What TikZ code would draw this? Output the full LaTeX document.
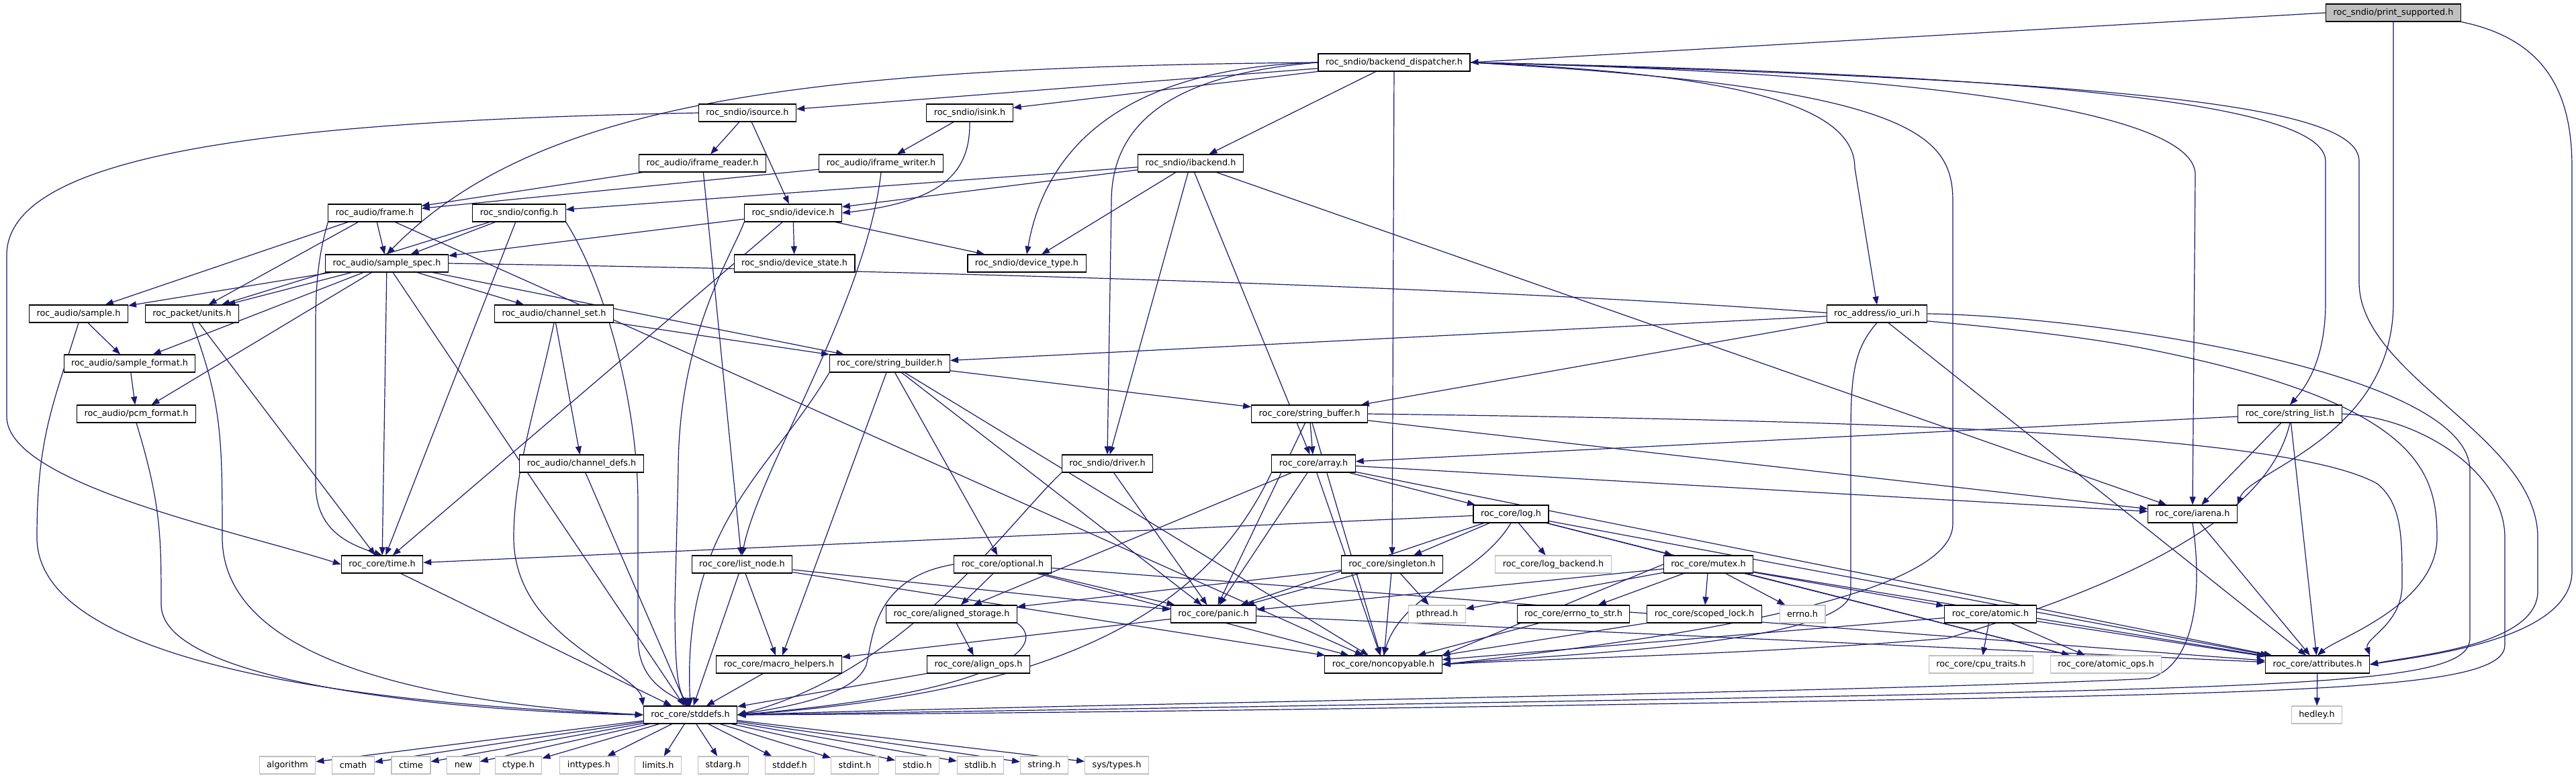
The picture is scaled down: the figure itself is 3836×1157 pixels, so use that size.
\documentclass[tikz,border=0pt]{standalone}
\usepackage{fontspec}
\setmainfont{DejaVu Sans}
\usetikzlibrary{arrows.meta,backgrounds}
\definecolor{edgeblue}{HTML}{191970}
\definecolor{extgray}{HTML}{BFBFBF}
\newcommand{\hdrsize}{\fontsize{6.4}{7.6}\selectfont}
\tikzset{
    hdr/.style={
        draw=black,line width=0.55pt,fill=white,
        inner xsep=5.5pt,inner ysep=0pt,minimum height=13pt,
        font=\hdrsize
    },
    ext hdr/.style={hdr,draw=extgray},
    root hdr/.style={hdr,fill=extgray},
    incl/.style={draw=edgeblue,line width=0.6pt,-{Triangle[length=6pt,width=4.5pt]}}
}

\begin{document}
\begin{tikzpicture}[x=0.5pt,y=-0.5pt]
\useasboundingbox (0,0) rectangle (3836,1157);
% headers, one rank per row
\node[root hdr] (ps) at (3564,19) {roc\_sndio/print\_supported.h};
\node[hdr] (bd) at (2076,93) {roc\_sndio/backend\_dispatcher.h};
\node[hdr] (isrc) at (1113,168) {roc\_sndio/isource.h};
\node[hdr] (isnk) at (1444,168) {roc\_sndio/isink.h};
\node[hdr] (ifr) at (1046,243) {roc\_audio/iframe\_reader.h};
\node[hdr] (ifw) at (1312,243) {roc\_audio/iframe\_writer.h};
\node[hdr] (ibk) at (1773,243) {roc\_sndio/ibackend.h};
\node[hdr] (frm) at (558,317) {roc\_audio/frame.h};
\node[hdr] (cfg) at (773,317) {roc\_sndio/config.h};
\node[hdr] (idev) at (1181,317) {roc\_sndio/idevice.h};
\node[hdr] (spec) at (576,392) {roc\_audio/sample\_spec.h};
\node[hdr] (dstate) at (1183,392) {roc\_sndio/device\_state.h};
\node[hdr] (dtype) at (1529,392) {roc\_sndio/device\_type.h};
\node[hdr] (smp) at (117,467) {roc\_audio/sample.h};
\node[hdr] (units) at (286,467) {roc\_packet/units.h};
\node[hdr] (chset) at (825,467) {roc\_audio/channel\_set.h};
\node[hdr] (iouri) at (2795,467) {roc\_address/io\_uri.h};
\node[hdr] (sfmt) at (193,541) {roc\_audio/sample\_format.h};
\node[hdr] (sbld) at (1325,541) {roc\_core/string\_builder.h};
\node[hdr] (pcm) at (203,616) {roc\_audio/pcm\_format.h};
\node[hdr] (sbuf) at (1950,616) {roc\_core/string\_buffer.h};
\node[hdr] (slist) at (3410,616) {roc\_core/string\_list.h};
\node[hdr] (chdefs) at (866,690) {roc\_audio/channel\_defs.h};
\node[hdr] (drv) at (1649,690) {roc\_sndio/driver.h};
\node[hdr] (arr) at (1956,690) {roc\_core/array.h};
\node[hdr] (log) at (2250,765) {roc\_core/log.h};
\node[hdr] (iarena) at (3265,765) {roc\_core/iarena.h};
\node[hdr] (time) at (569,840) {roc\_core/time.h};
\node[hdr] (lnode) at (1105,840) {roc\_core/list\_node.h};
\node[hdr] (opt) at (1493,840) {roc\_core/optional.h};
\node[hdr] (sing) at (2073,840) {roc\_core/singleton.h};
\node[ext hdr] (logb) at (2313,840) {roc\_core/log\_backend.h};
\node[hdr] (mutex) at (2544,840) {roc\_core/mutex.h};
\node[hdr] (astor) at (1417,914) {roc\_core/aligned\_storage.h};
\node[hdr] (panic) at (1807,914) {roc\_core/panic.h};
\node[ext hdr] (pthr) at (2140,914) {pthread.h};
\node[hdr] (e2s) at (2343,914) {roc\_core/errno\_to\_str.h};
\node[hdr] (slock) at (2538,914) {roc\_core/scoped\_lock.h};
\node[ext hdr] (errno) at (2684,914) {errno.h};
\node[hdr] (atomic) at (2964,914) {roc\_core/atomic.h};
\node[hdr] (mhelp) at (1160,989) {roc\_core/macro\_helpers.h};
\node[hdr] (aops) at (1457,989) {roc\_core/align\_ops.h};
\node[hdr] (nocopy) at (2060,989) {roc\_core/noncopyable.h};
\node[ext hdr] (cput) at (2950,989) {roc\_core/cpu\_traits.h};
\node[ext hdr] (atops) at (3136,989) {roc\_core/atomic\_ops.h};
\node[hdr] (attr) at (3451,989) {roc\_core/attributes.h};
\node[hdr] (stddefs) at (1028,1064) {roc\_core/stddefs.h};
\node[ext hdr] (hedley) at (3450,1064) {hedley.h};
% system headers
\foreach \n/\x/\t in {algorithm/428/algorithm,cmath/526/cmath,ctime/612/ctime,new/690/new,
    ctype/772/ctype.h,inttypes/877/inttypes.h,limits/980/limits.h,stdarg/1077/stdarg.h,
    stddef/1176/stddef.h,stdint/1273/stdint.h,stdio/1366/stdio.h,stdlib/1460/stdlib.h,string/1555/string.h}
    \node[ext hdr] (\n) at (\x,1139) {\t};
\node[ext hdr] (systypes) at (1663,1139) {sys/types.h};

\begin{pgfonlayer}{background}
\foreach \a/\b in {isrc/ifr,isrc/idev,isnk/ifw,ifr/frm,ifr/lnode,ifw/frm,
    ibk/cfg,ibk/idev,ibk/dtype,ibk/drv,ibk/arr,ibk/iarena,bd/isrc,bd/isnk,bd/ibk,bd/sing,
    frm/smp,frm/units,frm/spec,frm/nocopy,
    cfg/spec,cfg/units,cfg/time,
    idev/spec,idev/dstate,idev/dtype,idev/time,
    spec/smp,spec/units,spec/sfmt,spec/pcm,spec/chset,spec/sbld,spec/time,spec/stddefs,
    smp/sfmt,units/time,chset/sbld,chset/chdefs,
    sfmt/pcm,chdefs/stddefs,
    iouri/sbld,iouri/sbuf,iouri/attr,
    sbld/sbuf,sbld/opt,sbld/mhelp,sbld/nocopy,sbld/panic,
    sbuf/arr,sbuf/panic,sbuf/nocopy,sbuf/iarena,
    slist/arr,slist/iarena,slist/attr,drv/panic,
    arr/log,arr/iarena,arr/panic,arr/astor,arr/nocopy,arr/attr,
    log/time,log/sing,log/logb,log/mutex,log/panic,log/atops,log/attr,
    iarena/attr,lnode/panic,lnode/mhelp,lnode/nocopy,lnode/stddefs,
    opt/astor,opt/panic,opt/nocopy,opt/attr,
    sing/astor,sing/panic,sing/pthr,sing/nocopy,
    mutex/pthr,mutex/e2s,mutex/slock,mutex/errno,mutex/atomic,mutex/panic,mutex/atops,mutex/attr,
    astor/aops,panic/mhelp,panic/attr,e2s/nocopy,slock/nocopy,
    atomic/cput,atomic/atops,atomic/nocopy,atomic/attr,
    mhelp/stddefs,aops/stddefs,time/stddefs,attr/hedley}
    \draw[incl] (\a) -- (\b);
\foreach \n in {algorithm,cmath,ctime,new,ctype,inttypes,limits,stdarg,
    stddef,stdint,stdio,stdlib,string,systypes}
    \draw[incl] (stddefs) -- (\n);
% routed edges
\draw[incl] (ps.west) -- (bd.east);
\draw[incl] (ps.south) -- (3564,450) .. controls (3564,650) and (3350,700) .. (iarena.north east);
\draw[incl] (ps.south east) .. controls (3800,60) and (3830,150) .. (3830,250) -- (3830,850)
    .. controls (3830,950) and (3620,975) .. (attr.east);
\draw[incl] (isrc.west) .. controls (400,180) and (10,230) .. (10,380) -- (10,620)
    .. controls (10,720) and (350,790) .. (time.west);
\draw[incl] (isnk.south) .. controls (1445,260) and (1400,300) .. (idev.east);
\draw[incl] (ifw.south) .. controls (1290,450) and (1130,700) .. (lnode.north);
\draw[incl] (frm.south west) .. controls (480,360) and (470,400) .. (470,480) -- (470,720)
    .. controls (470,790) and (520,810) .. (time.north);
\draw[incl] (bd.west) .. controls (1200,100) and (800,150) .. (spec.north);
\draw[incl] (bd.west) .. controls (1700,100) and (1560,200) .. (dtype.north);
\draw[incl] (bd.west) .. controls (1750,110) and (1655,180) .. (1655,300) -- (drv.north);
\draw[incl] (bd.east) .. controls (2600,110) and (2762,160) .. (2762,250) -- (iouri.north);
\draw[incl] (bd.east) .. controls (2900,110) and (3269,170) .. (3269,260) -- (iarena.north);
\draw[incl] (bd.east) .. controls (3000,110) and (3463,150) .. (3463,240) -- (3463,450)
    .. controls (3463,540) and (3430,580) .. (slist.north);
\draw[incl] (bd.east) .. controls (3200,120) and (3513,160) .. (3513,240) -- (3513,420)
    .. controls (3513,560) and (3779,650) .. (3779,800) -- (3779,880)
    .. controls (3779,960) and (3600,975) .. (attr.east);
\draw[incl] (bd.east) .. controls (2850,130) and (2908,200) .. (2908,300) -- (2908,780)
    .. controls (2908,900) and (2400,960) .. (nocopy.east);
% to roc_core/stddefs.h
\draw[incl] (cfg.south east) .. controls (900,420) and (950,600) .. (950,750) -- (950,950)
    .. controls (950,1010) and (990,1030) .. (stddefs.north);
\draw[incl] (idev.south west) .. controls (1090,380) and (1010,500) .. (1010,700) -- (1005,900)
    .. controls (1005,1000) and (1010,1030) .. (stddefs.north);
\draw[incl] (smp.south) .. controls (80,600) and (55,650) .. (55,800)
    .. controls (55,1000) and (600,1050) .. (stddefs.west);
\draw[incl] (units.south) .. controls (330,600) and (331,650) .. (331,800)
    .. controls (331,1000) and (700,1050) .. (stddefs.west);
\draw[incl] (pcm.south) .. controls (240,750) and (240,800) .. (240,900)
    .. controls (240,1020) and (700,1060) .. (stddefs.west);
\draw[incl] (chset.south) .. controls (800,600) and (765,700) .. (765,800)
    .. controls (765,950) and (950,1000) .. (stddefs.north west);
\draw[incl] (sbld.south west) .. controls (1150,700) and (1015,780) .. (stddefs.north);
\draw[incl] (arr.south west) .. controls (1800,900) and (1600,1030) .. (stddefs.east);
\draw[incl] (drv.south west) .. controls (1500,780) and (1350,1000) .. (stddefs.east);
\draw[incl] (opt.west) .. controls (1300,860) and (1300,950) .. (1290,990)
    .. controls (1270,1040) and (1150,1055) .. (stddefs.east);
\draw[incl] (astor.south east) .. controls (1560,960) and (1500,1030) .. (stddefs.east);
\draw[incl] (iouri.east) .. controls (3100,470) and (3678,550) .. (3678,700) -- (3678,950)
    .. controls (3678,1010) and (3500,1020) .. (2800,1035) .. controls (2000,1050) and (1500,1058) .. (stddefs.east);
\draw[incl] (slist.east) .. controls (3600,620) and (3730,700) .. (3730,800) -- (3730,960)
    .. controls (3730,1020) and (3500,1030) .. (2800,1042) .. controls (2000,1056) and (1500,1062) .. (stddefs.east);
\draw[incl] (iarena.south) .. controls (3280,880) and (3270,990) .. (3200,1010)
    .. controls (2800,1030) and (1500,1050) .. (stddefs.east);
% to roc_core/noncopyable.h
\draw[incl] (iouri.south) .. controls (2760,520) and (2756,560) .. (2756,650) -- (2756,880)
    .. controls (2756,960) and (2300,975) .. (nocopy.east);
\draw[incl] (slist.south) .. controls (3380,760) and (3200,860) .. (2900,950)
    .. controls (2600,975) and (2300,980) .. (nocopy.east);
\draw[incl] (log.south) .. controls (2200,860) and (2090,880) .. (nocopy.north);
\draw[incl] (mutex.west) -- (nocopy.north east);
% to roc_core/attributes.h
\draw[incl] (spec.east) .. controls (1500,405) and (2800,440) .. (3200,520)
    .. controls (3600,600) and (3629,700) .. (3629,800) .. controls (3629,900) and (3480,950) .. (attr.north);
\draw[incl] (sbuf.east) .. controls (2700,625) and (3400,640) .. (3540,720)
    .. controls (3577,750) and (3577,800) .. (3577,870) .. controls (3577,930) and (3520,950) .. (attr.north east);
\end{pgfonlayer}
\end{tikzpicture}
\end{document}
